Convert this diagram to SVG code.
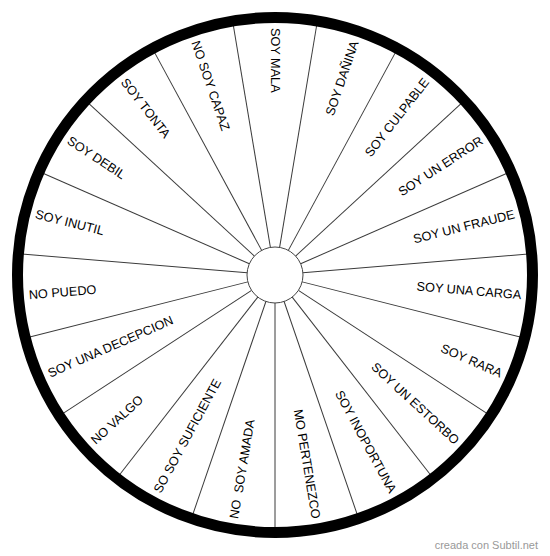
<svg xmlns="http://www.w3.org/2000/svg" width="550" height="556" viewBox="0 0 550 556">
<style>
.spoke{stroke:#3a3a3a;stroke-width:1;fill:none}
.lbl{font-family:"Liberation Sans",Arial,sans-serif;font-size:12.7px;fill:#000}
.r{text-anchor:end}
.l{text-anchor:start}
.wm{font-family:"Liberation Sans",Arial,sans-serif;font-size:11px;fill:#999}
</style>
<rect width="550" height="556" fill="#fff"/>
<g transform="translate(275,275)">
<g id="connectors">
<line class="spoke" x1="0" y1="-28" x2="0" y2="-254" transform="rotate(9.474)"/>
<line class="spoke" x1="0" y1="-28" x2="0" y2="-254" transform="rotate(28.421)"/>
<line class="spoke" x1="0" y1="-28" x2="0" y2="-254" transform="rotate(47.368)"/>
<line class="spoke" x1="0" y1="-28" x2="0" y2="-254" transform="rotate(66.316)"/>
<line class="spoke" x1="0" y1="-28" x2="0" y2="-254" transform="rotate(85.263)"/>
<line class="spoke" x1="0" y1="-28" x2="0" y2="-254" transform="rotate(104.211)"/>
<line class="spoke" x1="0" y1="-28" x2="0" y2="-254" transform="rotate(123.158)"/>
<line class="spoke" x1="0" y1="-28" x2="0" y2="-254" transform="rotate(142.105)"/>
<line class="spoke" x1="0" y1="-28" x2="0" y2="-254" transform="rotate(161.053)"/>
<line class="spoke" x1="0" y1="-28" x2="0" y2="-254" transform="rotate(180)"/>
<line class="spoke" x1="0" y1="-28" x2="0" y2="-254" transform="rotate(198.947)"/>
<line class="spoke" x1="0" y1="-28" x2="0" y2="-254" transform="rotate(217.895)"/>
<line class="spoke" x1="0" y1="-28" x2="0" y2="-254" transform="rotate(236.842)"/>
<line class="spoke" x1="0" y1="-28" x2="0" y2="-254" transform="rotate(255.789)"/>
<line class="spoke" x1="0" y1="-28" x2="0" y2="-254" transform="rotate(274.737)"/>
<line class="spoke" x1="0" y1="-28" x2="0" y2="-254" transform="rotate(293.684)"/>
<line class="spoke" x1="0" y1="-28" x2="0" y2="-254" transform="rotate(312.632)"/>
<line class="spoke" x1="0" y1="-28" x2="0" y2="-254" transform="rotate(331.579)"/>
<line class="spoke" x1="0" y1="-28" x2="0" y2="-254" transform="rotate(350.526)"/>
</g>
<g id="rim"><circle cx="0" cy="0" r="257.5" fill="none" stroke="#000" stroke-width="11"/></g>
<g id="hub"><circle cx="0" cy="0" r="28" fill="#fff" stroke="#444" stroke-width="1"/></g>
<g id="seg0"><text class="lbl l" x="-247" y="0" dy="0.28em" transform="rotate(90)">SOY MALA</text></g>
<g id="seg1"><text class="lbl r" x="247" y="0" dy="0.3em" transform="rotate(-71.053)">SOY DAÑINA</text></g>
<g id="seg2"><text class="lbl r" x="247" y="0" dy="0.3em" transform="rotate(-52.105)">SOY CULPABLE</text></g>
<g id="seg3"><text class="lbl r" x="247" y="0" dy="0.3em" transform="rotate(-33.158)">SOY UN ERROR</text></g>
<g id="seg4"><text class="lbl r" x="247" y="0" dy="0.3em" transform="rotate(-14.211)">SOY UN FRAUDE</text></g>
<g id="seg5"><text class="lbl r" x="247" y="0" dy="0.3em" transform="rotate(4.737)">SOY UNA CARGA</text></g>
<g id="seg6"><text class="lbl r" x="247" y="0" dy="0.3em" transform="rotate(23.684)">SOY RARA</text></g>
<g id="seg7"><text class="lbl r" x="247" y="0" dy="0.3em" transform="rotate(42.632)">SOY UN ESTORBO</text></g>
<g id="seg8"><text class="lbl r" x="247" y="0" dy="0.3em" transform="rotate(61.579)">SOY INOPORTUNA</text></g>
<g id="seg9"><text class="lbl r" x="247" y="0" dy="0.3em" transform="rotate(80.526)">MO PERTENEZCO</text></g>
<g id="seg10"><text class="lbl l" x="-247" y="0" dy="0.3em" transform="rotate(279.474)" xml:space="preserve">NO  SOY AMADA</text></g>
<g id="seg11"><text class="lbl l" x="-247" y="0" dy="0.3em" transform="rotate(298.421)">SO SOY SUFICIENTE</text></g>
<g id="seg12"><text class="lbl l" x="-247" y="0" dy="0.3em" transform="rotate(317.368)">NO VALGO</text></g>
<g id="seg13"><text class="lbl l" x="-247" y="0" dy="0.3em" transform="rotate(336.316)">SOY UNA DECEPCION</text></g>
<g id="seg14"><text class="lbl l" x="-247" y="0" dy="0.3em" transform="rotate(355.263)">NO PUEDO</text></g>
<g id="seg15"><text class="lbl l" x="-247" y="0" dy="0.3em" transform="rotate(14.211)">SOY INUTIL</text></g>
<g id="seg16"><text class="lbl l" x="-247" y="0" dy="0.3em" transform="rotate(33.158)">SOY DEBIL</text></g>
<g id="seg17"><text class="lbl l" x="-247" y="0" dy="0.3em" transform="rotate(52.105)">SOY TONTA</text></g>
<g id="seg18"><text class="lbl l" x="-247" y="0" dy="0.3em" transform="rotate(71.053)">NO SOY CAPAZ</text></g>
</g>
<text class="wm" x="538" y="549" text-anchor="end">creada con Subtil.net</text>
</svg>
